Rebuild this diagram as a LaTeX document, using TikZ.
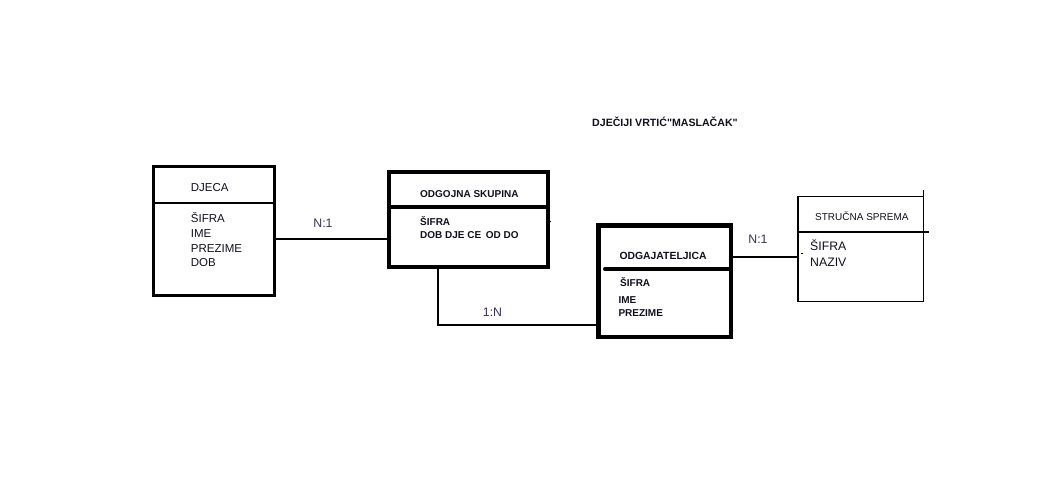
\documentclass[tikz,border=0pt]{standalone}
\usepackage{fontspec}
\setmainfont{Liberation Sans}[Ligatures=TeXOff]
\definecolor{lbl}{HTML}{3C2D5F}
\definecolor{txt}{HTML}{101020}
\begin{document}
\begin{tikzpicture}[x=1pt,y=-1pt,
  ent/.style={draw=black,rectangle,inner sep=0pt,outer sep=0pt},
  t/.style={anchor=base west,inner sep=0pt,text=txt},
  plain/.style={t,font=\fontsize{11.5}{14}\selectfont},
  small/.style={t,font=\fontsize{10}{12}\selectfont},
  bld/.style={t,font=\fontsize{10}{12}\selectfont\bfseries},
  big/.style={t,font=\fontsize{12.3}{14}\selectfont},
  card/.style={inner sep=0pt,text=lbl,font=\fontsize{12.3}{14}\selectfont},
  conn/.style={draw=black,line width=2.8pt}]
\useasboundingbox[fill=white] (0,0) rectangle (1046,481);

% title
\node[bld,font=\fontsize{10.6}{12}\selectfont\bfseries] (title) at (592,126.7) {DJEČIJI VRTIĆ"MASLAČAK"};

% DJECA
\node[ent,line width=3pt,minimum width=121pt,minimum height=129pt] (dj) at (214,231) {};
\draw[line width=2pt] (dj.west |- 0,203) -- (dj.east |- 0,203);
\node[plain] (djt) at (190.7,192) {DJECA};
\node[plain] (dja) at (190.7,222.5) {ŠIFRA};
\node[plain] (djb) at (190.7,237.2) {IME};
\node[plain] (djc) at (190.7,252) {PREZIME};
\node[plain] (djd) at (190.7,266.8) {DOB};

% ODGOJNA SKUPINA
\node[ent,line width=4.5pt,minimum width=159pt,minimum height=95pt] (og) at (468.5,219.5) {};
\draw[line width=4.5pt] (og.west |- 0,207) -- (og.east |- 0,207);
\draw[line width=1pt] (og.east |- 0,221.5) -- ++(3,0);
\node[bld] (ogt) at (420,197.5) {ODGOJNA SKUPINA};
\node[bld] (oga) at (420,225) {ŠIFRA};
\node[bld] (ogb) at (420,238.5) {DOB DJE CE\, OD DO};

% ODGAJATELJICA
\node[ent,line width=4.5pt,minimum width=132.5pt,minimum height=111.5pt] (oj) at (664.5,281) {};
\draw[line width=4pt,line cap=round] (605,269) -- (oj.east |- 0,269);
\node[bld,font=\fontsize{10.4}{12}\selectfont\bfseries] (ojt) at (619.3,259.5) {ODGAJATELJICA};
\node[bld] (oja) at (620,286.7) {ŠIFRA};
\node[bld] (ojb) at (618.3,303.3) {IME};
\node[bld] (ojc) at (618.3,316.7) {PREZIME};

% STRUCNA SPREMA
\node[ent,line width=1.5pt,minimum width=125.5pt,minimum height=105pt] (ss) at (860.75,249) {};
\draw[line width=2.5pt] (ss.west |- 0,232) -- (929,232);
\draw[line width=1.2pt] (ss.east |- 0,190) -- (ss.north east);
\node[small] (sst) at (815,220) {STRUČNA SPREMA};
\node[big] (ssa) at (810,250) {ŠIFRA};
\node[big] (ssb) at (810,266.7) {NAZIV};
\fill (801,252.5) rectangle ++(1.6,1.6);

% connectors
\coordinate (k1) at (330,239);
\coordinate (k2) at (438,325);
\coordinate (k3) at (765,257);
\draw[conn] (dj.east |- k1) -- (og.west |- k1);
\draw[conn] (og.south -| k2) |- (oj.west |- k2);
\draw[conn,line width=2.3pt] (oj.east |- k3) -- (ss.west |- k3);

% cardinalities
\node[card] (c1) at (323,223) {N:1};
\node[card] (c2) at (492.5,312) {1:N};
\node[card] (c3) at (758,239.5) {N:1};
\end{tikzpicture}
\end{document}
